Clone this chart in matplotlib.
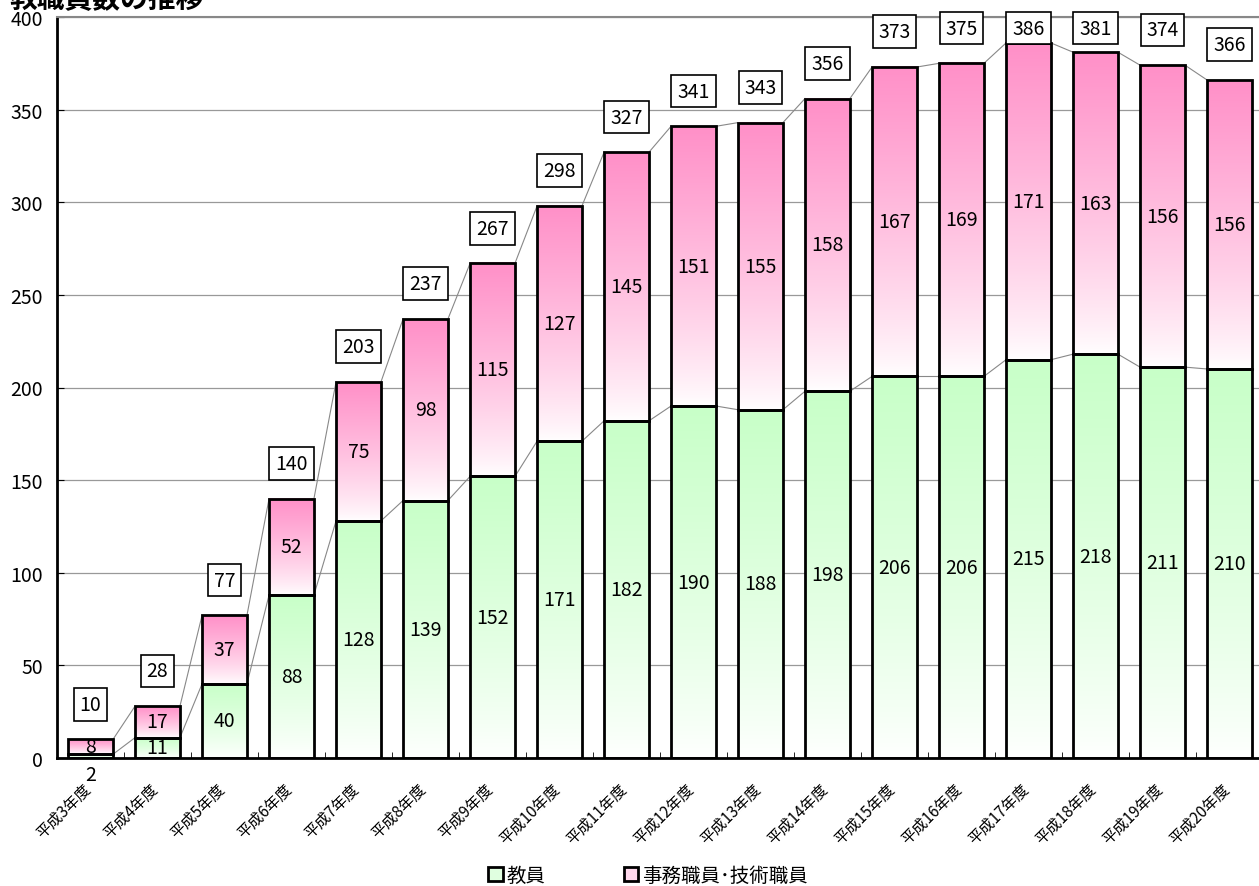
import numpy as np
import matplotlib
matplotlib.use("Agg")
import matplotlib.pyplot as plt
import matplotlib.transforms as mtransforms
from matplotlib.colors import LinearSegmentedColormap
from matplotlib.patches import Patch

plt.rcParams['font.family'] = ['Noto Sans CJK JP', 'DejaVu Sans']

years = ["平成3年度", "平成4年度", "平成5年度", "平成6年度", "平成7年度", "平成8年度",
         "平成9年度", "平成10年度", "平成11年度", "平成12年度", "平成13年度", "平成14年度",
         "平成15年度", "平成16年度", "平成17年度", "平成18年度", "平成19年度", "平成20年度"]
teachers = [2, 11, 40, 88, 128, 139, 152, 171, 182, 190, 188, 198, 206, 206, 215, 218, 211, 210]
staff = [8, 17, 37, 52, 75, 98, 115, 127, 145, 151, 155, 158, 167, 169, 171, 163, 156, 156]
# 合計（図中の表記どおり。平成19年度は内訳の和と一致しない）
totals = [10, 28, 77, 140, 203, 237, 267, 298, 327, 341, 343, 356, 373, 375, 386, 381, 374, 366]

GREEN_TOP, PINK_TOP = "#C8FFC8", "#FF90C8"
W = 0.67

teachers = np.array(teachers)
totals = np.array(totals)
x = np.arange(len(years))

fig = plt.figure(figsize=(12.59, 8.87), dpi=100)
ax = fig.add_axes([57 / 1259, 128 / 887, 1206 / 1259, 741 / 887])
ax.set_xlim(-0.5, len(years) - 0.5)
ax.set_ylim(0, 400)

fig.text(10 / 1259, 1 - 8 / 887, "教職員数の推移", fontsize=20, fontweight="bold",
         ha="left", va="baseline")


def grad_bar(xc, y0, y1, top):
    cmap = LinearSegmentedColormap.from_list("g", ["white", top])
    g = np.linspace(0, 1, 256).reshape(-1, 1) ** 0.8
    ax.imshow(g, extent=[xc - W / 2, xc + W / 2, y0, y1], origin="lower",
              cmap=cmap, vmin=0, vmax=1, aspect="auto", zorder=2,
              interpolation="bilinear")


for i in x:
    grad_bar(i, 0, teachers[i], GREEN_TOP)
    grad_bar(i, teachers[i], totals[i], PINK_TOP)

ax.bar(x, teachers, W, fill=False, edgecolor="black", linewidth=2, zorder=3)
ax.bar(x, totals - teachers, W, bottom=teachers, fill=False, edgecolor="black",
       linewidth=2, zorder=3)

# 系列線
for i in range(len(x) - 1):
    for s in (teachers, totals):
        ax.plot([i + W / 2, i + 1 - W / 2], [s[i], s[i + 1]], color="#888888",
                lw=0.8, zorder=1.5)

for i in x:
    if teachers[i] < 5:
        ax.text(i, -9, str(teachers[i]), ha="center", va="center", fontsize=14,
                clip_on=False)
    else:
        ax.text(i, teachers[i] / 2, str(teachers[i]), ha="center", va="center",
                fontsize=14, zorder=4)
    ax.text(i, (teachers[i] + totals[i]) / 2, str(staff[i]), ha="center", va="center",
            fontsize=14, zorder=4)
    ax.text(i, min(totals[i] + 19, 394), str(totals[i]), ha="center", va="center",
            fontsize=14, zorder=4, clip_on=False,
            bbox=dict(boxstyle="square,pad=0.3", fc="white", ec="black", lw=1.2))

ax.set_yticks(np.arange(0, 401, 50))
ax.yaxis.grid(True, color="#999999", lw=0.9)
ax.set_axisbelow(True)
ax.tick_params(axis="y", direction="in", length=5, labelsize=14, pad=10)
ax.set_xticks(x)
ax.set_xticklabels(years, rotation=45, ha="right", va="center",
                   rotation_mode="anchor", fontsize=11)
ax.tick_params(axis="x", length=0, pad=20)
shift = mtransforms.ScaledTranslation(-2 / 100, 0, fig.dpi_scale_trans)
for lbl in ax.get_xticklabels():
    lbl.set_transform(lbl.get_transform() + shift)
ax.set_xticks(np.arange(0.5, len(years) - 0.5), minor=True)
ax.tick_params(axis="x", which="minor", direction="in", length=4)

for s in ("left", "bottom"):
    ax.spines[s].set_linewidth(2)
ax.spines["top"].set_color("#888888")
ax.spines["top"].set_linewidth(1.5)
ax.spines["right"].set_visible(False)

handles = [Patch(facecolor="#E0FFE0", edgecolor="black", lw=2, label="教員"),
           Patch(facecolor="#FFD8EC", edgecolor="black", lw=2, label="事務職員･技術職員")]
fig.legend(handles=handles, loc="center", bbox_to_anchor=(648 / 1259, 1 - 876 / 887),
           ncol=2, frameon=False, fontsize=14, handlelength=0.75, handleheight=0.75,
           handletextpad=0.2, columnspacing=4)

fig.savefig("out.png")
